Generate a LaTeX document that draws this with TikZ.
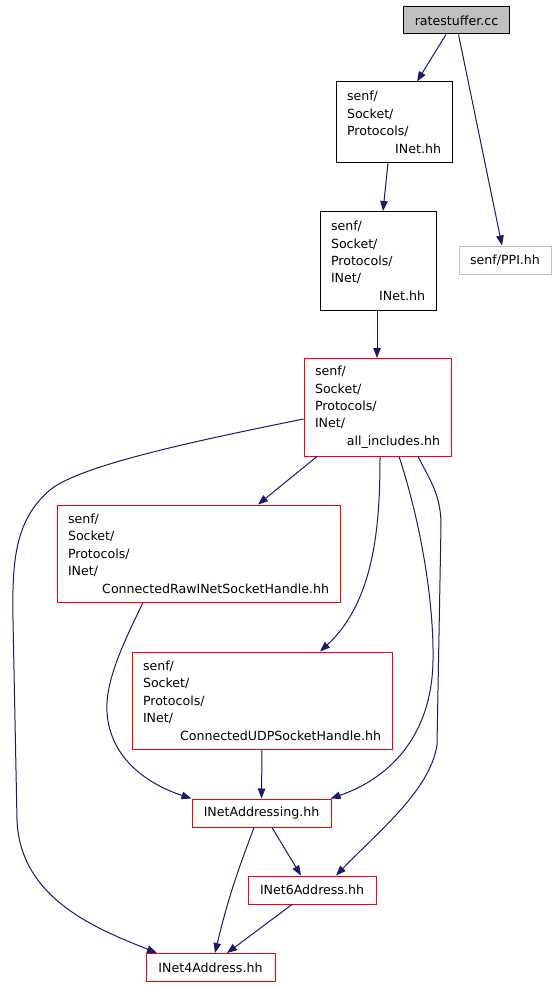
\documentclass[tikz,border=0pt]{standalone}
\usepackage{fontspec}
\setmainfont{DejaVu Sans}
\usetikzlibrary{arrows.meta}
\definecolor{edgeblue}{RGB}{25,25,112}
\definecolor{lgray}{RGB}{191,191,191}
\tikzset{
  box/.style={draw, line width=1pt, inner xsep=11pt, inner ysep=0pt, font=\fontsize{12.6}{17.4}\selectfont},
  rbox/.style={box, draw=red},
  kbox/.style={box, draw=black},
  mline/.style={align=left},
  edge/.style={draw=edgeblue, line width=1pt, -{Triangle[length=10pt,width=7.5pt]}, fill=none},
}
\begin{document}
\begin{tikzpicture}[x=1pt,y=-1pt]
\useasboundingbox[fill=white] (0,0) rectangle (555,987);
% nodes
\node[kbox, fill=lgray, minimum width=105pt, minimum height=27pt] (rs) at (456.5,20.5) {ratestuffer.cc};
\node[kbox, mline, minimum width=116pt, minimum height=80.5pt, text width=94pt] (inet) at (394,122.25)
  {senf/\\Socket/\\Protocols/\\\hspace*{\fill}INet.hh};
\node[kbox, mline, minimum width=116pt, minimum height=98.5pt, text width=94pt] (inetinet) at (378,260.75)
  {senf/\\Socket/\\Protocols/\\INet/\\\hspace*{\fill}INet.hh};
\node[box, draw=lgray, minimum width=92pt, minimum height=28pt] (ppi) at (505,260) {senf/PPI.hh};
\node[rbox, mline, minimum width=147pt, minimum height=97.5pt, text width=125pt] (all) at (377.5,407.25)
  {senf/\\Socket/\\Protocols/\\INet/\\\hspace*{\fill}all\_includes.hh};
\node[rbox, mline, minimum width=283pt, minimum height=97pt, text width=261pt] (raw) at (198.5,553.5)
  {senf/\\Socket/\\Protocols/\\INet/\\\hspace*{\fill}ConnectedRawINetSocketHandle.hh};
\node[rbox, mline, minimum width=260pt, minimum height=97pt, text width=238pt] (udp) at (262,700.5)
  {senf/\\Socket/\\Protocols/\\INet/\\\hspace*{\fill}ConnectedUDPSocketHandle.hh};
\node[rbox, minimum width=139pt, minimum height=28pt] (addr) at (261.5,813) {INetAddressing.hh};
\node[rbox, minimum width=128pt, minimum height=28pt] (a6) at (312,890) {INet6Address.hh};
\node[rbox, minimum width=129pt, minimum height=28pt] (a4) at (210.5,967.5) {INet4Address.hh};
% edges
\draw[edge] ([xshift=-10.5pt]rs.south) -- ([xshift=23pt]inet.north);
\draw[edge] ([xshift=2pt]rs.south) -- ([xshift=-3pt]ppi.north);
\draw[edge] ([xshift=-6pt]inet.south) -- ([xshift=5pt]inetinet.north);
\draw[edge] ([xshift=-1pt]inetinet.south) -- ([xshift=-0.5pt]all.north);
\draw[edge] ([xshift=-60.5pt]all.south) -- ([xshift=59.5pt]raw.north);
\draw[edge] ([xshift=2.5pt]all.south) .. controls (380,520) and (376,600) .. ([xshift=58pt]udp.north);
\draw[edge] ([xshift=21.5pt]all.south) .. controls (420,520) and (434,600) .. (433,660)
  .. controls (432,740) and (385,780) .. ([xshift=-1pt]addr.north east);
\draw[edge] ([xshift=40.5pt]all.south) .. controls (430,480) and (441,495) .. (441,525)
  -- (437,745) .. controls (430,790) and (380,830) .. ([xshift=24pt]a6.north);
\draw[edge] ([yshift=-11.75pt]all.west) .. controls (200,440) and (80,465) .. (50,490)
  .. controls (15,520) and (12,560) .. (13,620) -- (17,820)
  .. controls (20,900) and (100,930) .. ([xshift=-53.5pt]a4.north);
\draw[edge] ([xshift=-55.5pt]raw.south) .. controls (125,640) and (105,680) .. (107,712)
  .. controls (110,760) and (150,785) .. ([xshift=-70pt]addr.north);
\draw[edge] (udp.south) -- (addr.north);
\draw[edge] ([xshift=-7.5pt]addr.south) .. controls (242,860) and (230,890) .. ([xshift=4.5pt]a4.north);
\draw[edge] ([xshift=10.5pt]addr.south) -- ([xshift=-11pt]a6.north);
\draw[edge] ([xshift=-20pt]a6.south) -- ([xshift=16.5pt]a4.north);
\end{tikzpicture}
\end{document}
